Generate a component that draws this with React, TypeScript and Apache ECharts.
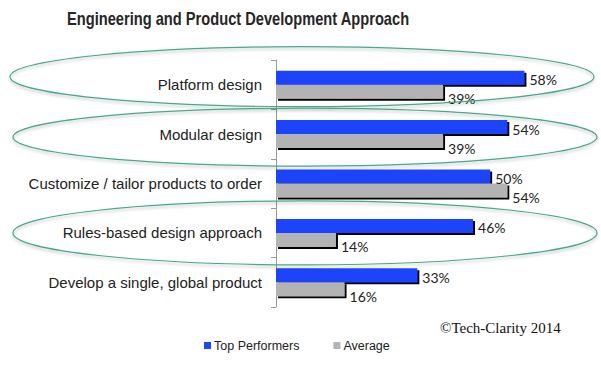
import React, { useEffect, useRef } from "react";
import * as echarts from "echarts";

const categories = [
  "Platform design",
  "Modular design",
  "Customize / tailor products to order",
  "Rules-based design approach",
  "Develop a single, global product",
];
const topPerformers = [58, 54, 50, 46, 33];
const average = [39, 39, 54, 14, 16];
const seriesNames = ["Top Performers", "Average"];
const titleText = "Engineering and Product Development Approach";
const copyrightText = "©Tech-Clarity 2014";
// highlighted categories (index) circled by ellipses
const highlighted = [0, 1, 3];

export default function App() {
  const ref = useRef<HTMLDivElement>(null);
  useEffect(() => {
    if (!ref.current) return;
    const chart = echarts.init(ref.current, null, { renderer: "svg" });
    const gridLeft = 276;
    const gridTop = 60;
    const gridHeight = 247;
    const band = gridHeight / categories.length;
    const ellipseShift = [-8, 3, 0];
    const ellipseRy = [30, 29, 32];
    const ellipseCx = [302, 305, 305];
    const ellipses = highlighted.map((i, k) => ({
      type: "ellipse",
      z: 100,
      shape: { cx: ellipseCx[k], cy: gridTop + band * i + band / 2 + ellipseShift[k], rx: 292, ry: ellipseRy[k] },
      style: {
        fill: "none",
        stroke: "#46a98a",
        lineWidth: 1.2,
        shadowBlur: 3,
        shadowColor: "rgba(0,0,0,0.25)",
        shadowOffsetY: 2,
      },
    }));
    const labelCommon = {
      show: true,
      position: "right",
      fontFamily: "Lato",
      fontSize: 14,
      color: "#222",
      formatter: "{c}%",
    };
    chart.setOption({
      animation: false,
      textStyle: { fontFamily: "Liberation Sans" },
      grid: { left: gridLeft, top: gridTop, height: gridHeight, width: 257 },
      xAxis: {
        type: "value",
        min: 0,
        max: 60,
        show: false,
      },
      yAxis: {
        type: "category",
        data: categories,
        inverse: true,
        axisLine: { show: true, lineStyle: { color: "#999", width: 1 } },
        axisTick: { show: true, length: 5, lineStyle: { color: "#999" } },
        axisLabel: { fontSize: 15, color: "#222", margin: 14, fontFamily: "Liberation Sans" },
      },
      legend: {
        left: 199,
        top: 334,
        itemWidth: 7,
        itemHeight: 7,
        itemGap: 34,
        icon: "rect",
        textStyle: { fontSize: 12.5, color: "#222", padding: [0, 0, 0, -2] },
        data: seriesNames,
      },
      series: [
        {
          name: seriesNames[0],
          type: "bar",
          data: topPerformers,
          barWidth: 14,
          barGap: "0%",
          itemStyle: {
            color: "#1f45fb",
            shadowColor: "#000",
            shadowOffsetX: 2,
            shadowOffsetY: 2,
            shadowBlur: 0,
          },
          label: { ...labelCommon, offset: [0, 2] },
        },
        {
          name: seriesNames[1],
          type: "bar",
          data: average,
          barWidth: 14,
          barGap: "0%",
          itemStyle: {
            color: "#b3b3b3",
            shadowColor: "#000",
            shadowOffsetX: 2,
            shadowOffsetY: 2,
            shadowBlur: 0,
          },
          label: { ...labelCommon, offset: [0, 7] },
        },
      ],
      graphic: [
        ...ellipses,
        {
          type: "text",
          x: 67,
          y: 18.8,
          scaleX: 0.814,
          style: {
            text: titleText,
            font: "bold 18px 'Liberation Sans'",
            fill: "#262626",
            textAlign: "left",
            textVerticalAlign: "middle",
            verticalAlign: "middle",
          },
        },
        {
          type: "text",
          left: 440,
          top: 320,
          style: { text: copyrightText, font: "15px 'Liberation Serif'", fill: "#111" },
        },
      ],
    });
    return () => chart.dispose();
  }, []);
  return <div ref={ref} style={{ width: 601, height: 378, position: "absolute", left: 0, top: 0 }} />;
}
